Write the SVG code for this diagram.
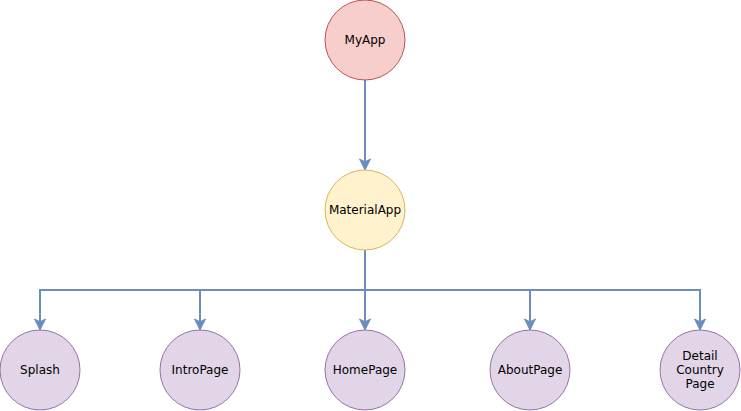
<svg xmlns="http://www.w3.org/2000/svg" width="741" height="411" viewBox="0 0 741 411">
<style>
.e{fill:none;stroke:#6c8ebf;stroke-width:2;marker-end:url(#a)}
.t{font-family:"DejaVu Sans",Verdana,sans-serif;font-size:12px;fill:#000;text-anchor:middle}
.p{fill:#e1d5e7;stroke:#9673a6}
</style>
<defs>
<marker id="a" markerUnits="userSpaceOnUse" markerWidth="14" markerHeight="14" refX="13" refY="7" viewBox="0 0 14 14" orient="auto">
<path d="M13 7 L2 1.5 L4.8 7 L2 12.5 Z" fill="#6c8ebf" stroke="#6c8ebf" stroke-width="1"/>
</marker>
</defs>
<rect width="741" height="411" fill="#fff"/>
<g id="connectors">
<path class="e" d="M365 80 V170"/>
<path class="e" d="M365 250 V290 H40 V330"/>
<path class="e" d="M365 250 V290 H200 V330"/>
<path class="e" d="M365 250 V330"/>
<path class="e" d="M365 250 V290 H530 V330"/>
<path class="e" d="M365 250 V290 H700 V330"/>
</g>
<g id="myapp"><circle cx="365" cy="40" r="40" fill="#f8cecc" stroke="#b85450"/><text class="t" x="365" y="44">MyApp</text></g>
<g id="materialapp"><circle cx="365" cy="210" r="40" fill="#fff2cc" stroke="#d6b656"/><text class="t" x="365" y="214">MaterialApp</text></g>
<g id="splash"><circle class="p" cx="40" cy="370" r="40"/><text class="t" x="40" y="374">Splash</text></g>
<g id="intropage"><circle class="p" cx="200" cy="370" r="40"/><text class="t" x="200" y="374">IntroPage</text></g>
<g id="homepage"><circle class="p" cx="365" cy="370" r="40"/><text class="t" x="365" y="374">HomePage</text></g>
<g id="aboutpage"><circle class="p" cx="530" cy="370" r="40"/><text class="t" x="530" y="374">AboutPage</text></g>
<g id="detail"><circle class="p" cx="700" cy="370" r="40"/><text class="t" x="700" y="360">Detail</text><text class="t" x="700" y="374">Country</text><text class="t" x="700" y="388">Page</text></g>
</svg>
